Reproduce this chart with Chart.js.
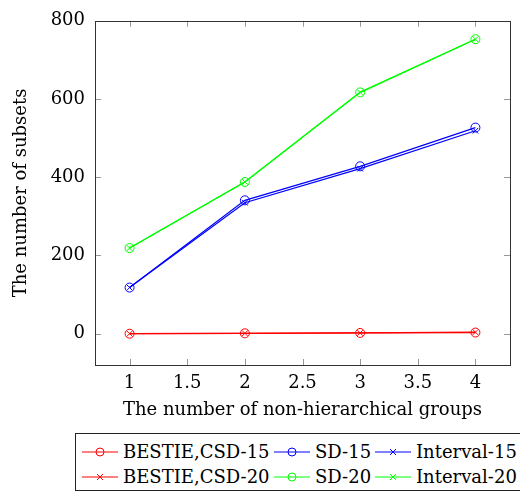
<!DOCTYPE html>
<html>
<head>
<meta charset="utf-8">
<script src="https://cdn.jsdelivr.net/npm/chart.js@4"></script>
<style>
  html, body { margin: 0; padding: 0; background: #fff; }
  body { width: 520px; height: 493px; overflow: hidden; position: relative; font-family: "DejaVu Serif", serif; }
  #wrap { position: absolute; left: 0; top: 0; width: 520px; height: 430px; }
  #legend { position: absolute; left: 75px; top: 433px; width: 460px; height: 58px; border: 1px solid #222; box-sizing: border-box; }
  .item { position: absolute; height: 24px; line-height: 24px; font-size: 18px; color: #000; white-space: nowrap; }
  .item svg { position: absolute; left: 0; top: 0; }
  .item span { position: absolute; left: 41px; top: 0; }
</style>
</head>
<body>
<div id="wrap"><canvas id="myChart"></canvas></div>
<div id="legend"></div>
<script>
// data
const groups = [1, 2, 3, 4];
const bestie15 = [0, 1, 2, 3];
const sd15 = [118, 341, 428, 527];
const interval15 = [118, 335, 422, 519];
const bestie20 = [0, 1, 2, 4];
const sd20 = [219, 388, 617, 753];
const interval20 = [219, 388, 617, 753];
const xTicks = [1, 1.5, 2, 2.5, 3, 3.5, 4];
const yTicks = [0, 200, 400, 600, 800];

const series = [
    { label: "BESTIE,CSD-15", values: bestie15, color: "#ff0000", marker: "circle" },
    { label: "SD-15", values: sd15, color: "#0000ff", marker: "circle" },
    { label: "Interval-15", values: interval15, color: "#0000ff", marker: "crossRot" },
    { label: "BESTIE,CSD-20", values: bestie20, color: "#ff0000", marker: "crossRot" },
    { label: "SD-20", values: sd20, color: "#00ff00", marker: "circle" },
    { label: "Interval-20", values: interval20, color: "#00ff00", marker: "crossRot" },
];

const FONT = "'DejaVu Serif', serif";

// ticks drawn inward on all four sides, pgfplots style
const innerTicks = {
    id: "innerTicks",
    afterDraw(chart) {
        const ctx = chart.ctx;
        const a = chart.chartArea;
        const x = chart.scales.x, y = chart.scales.y;
        const len = 6;
        ctx.save();
        ctx.strokeStyle = "#999";
        ctx.lineWidth = 1;
        ctx.beginPath();
        x.ticks.forEach(t => {
            const px = Math.round(x.getPixelForValue(t.value)) + 0.5;
            ctx.moveTo(px, a.bottom); ctx.lineTo(px, a.bottom - len);
            ctx.moveTo(px, a.top); ctx.lineTo(px, a.top + len);
        });
        y.ticks.forEach(t => {
            const py = Math.round(y.getPixelForValue(t.value)) + 0.5;
            ctx.moveTo(a.left, py); ctx.lineTo(a.left + len, py);
            ctx.moveTo(a.right, py); ctx.lineTo(a.right - len, py);
        });
        ctx.stroke();
        ctx.strokeStyle = "#333";
        ctx.strokeRect(Math.round(a.left) + 0.5, Math.round(a.top) + 0.5, Math.round(a.right - a.left), Math.round(a.bottom - a.top));
        ctx.restore();
    }
};

const datos = {
    datasets: series.map(s => ({
        label: s.label,
        data: groups.map((g, i) => ({ x: g, y: s.values[i] })),
        borderColor: s.color,
        backgroundColor: "rgba(0,0,0,0)",
        pointBorderColor: s.color,
        pointStyle: s.marker,
        pointRadius: s.marker === "circle" ? 4.5 : 4,
        pointBorderWidth: 1,
        borderWidth: 1.2,
        showLine: true,
        tension: 0,
    }))
};

new Chart(document.getElementById("myChart"), {
    type: "scatter",
    data: datos,
    plugins: [innerTicks],
    options: {
        responsive: true,
        maintainAspectRatio: false,
        animation: false,
        layout: { padding: { top: 20, right: 10, left: 0, bottom: 0 } },
        plugins: { legend: { display: false }, tooltip: { enabled: false } },
        scales: {
            x: {
                type: "linear",
                min: 0.7,
                max: 4.3,
                afterBuildTicks: scale => { scale.ticks = xTicks.map(v => ({ value: v })); },
                afterFit: scale => { scale.height = 65; },
                grid: { display: false, drawTicks: false },
                border: { display: false },
                ticks: { color: "#000", font: { family: FONT, size: 18 }, padding: 8, maxRotation: 0, callback: v => String(v) },
                title: { display: true, text: "The number of non-hierarchical groups", color: "#000", font: { family: FONT, size: 18 }, padding: { top: 0, bottom: 9 } },
            },
            y: {
                type: "linear",
                min: -80,
                max: 800,
                afterBuildTicks: scale => { scale.ticks = yTicks.map(v => ({ value: v })); },
                afterFit: scale => { scale.width = 95; },
                grid: { display: false, drawTicks: false },
                border: { display: false },
                ticks: { color: "#000", font: { family: FONT, size: 18 }, padding: 10, callback: v => String(v) },
                title: { display: true, text: "The number of subsets", color: "#000", font: { family: FONT, size: 18 }, padding: { top: 11, bottom: 0 } },
            }
        }
    }
});

// legend: 2 rows x 3 columns, sample line with marker in the middle
const colLeft = [6, 198, 299];
const rowTop = [6, 31];
const legend = document.getElementById("legend");
series.forEach((s, i) => {
    const col = i % 3, row = Math.floor(i / 3);
    const div = document.createElement("div");
    div.className = "item";
    div.style.left = colLeft[col] + "px";
    div.style.top = rowTop[row] + "px";
    const mark = s.marker === "circle"
        ? `<circle cx="18" cy="12" r="4" fill="none" stroke="${s.color}" stroke-width="1"/>`
        : `<path d="M15 9 L21 15 M21 9 L15 15" stroke="${s.color}" stroke-width="1"/>`;
    div.innerHTML = `<svg width="38" height="24"><line x1="0" y1="12" x2="36" y2="12" stroke="${s.color}" stroke-width="1"/>${mark}</svg><span>${s.label}</span>`;
    legend.appendChild(div);
});
</script>
</body>
</html>
